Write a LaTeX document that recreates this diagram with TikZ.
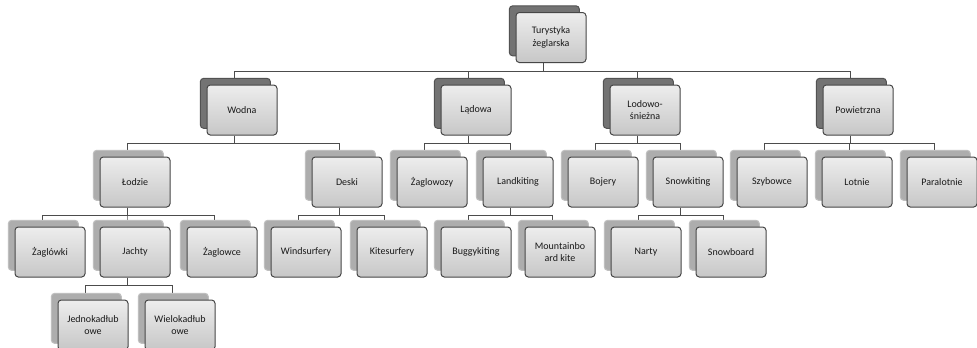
\documentclass[tikz,border=0pt]{standalone}
\usepackage{fontspec}
\setmainfont{Carlito}
\usetikzlibrary{calc,shadows}
\pgfdeclarelayer{background}
\pgfsetlayers{background,main}
\tikzset{
  box/.style={draw=black!72, line width=0.75pt, rounded corners=2.5pt,
    top color=black!7, bottom color=black!22,
    minimum width=52.5pt, minimum height=37.5pt, inner sep=1pt,
    align=center, font=\fontsize{7.5pt}{9.4pt}\selectfont, text=black!90},
  topbox/.style={box, general shadow={shadow xshift=-5pt, shadow yshift=5pt,
    fill=black!55, draw=black!68, line width=0.75pt, rounded corners=2.5pt}},
  lowbox/.style={box, general shadow={shadow xshift=-5pt, shadow yshift=5pt,
    fill=black!32, draw=black!25, rounded corners=2.5pt}},
  conn/.style={draw=black!70, line width=0.75pt},
}
\newcommand{\branch}[2]{%
  \foreach \c in {#2}{
    \draw[conn] ($(#1.south)+(-8,0)$) -- ++(0,8) -| ($(\c.north)+(-8,0)$);
  }%
}
\begin{document}
\begin{tikzpicture}[x=0.75pt,y=-0.75pt]
\useasboundingbox (0,0) rectangle (977,347);
\clip (0,0) rectangle (977,347);
% level 1
\node[topbox] (root) at (551,37.5) {Turystyka\\żeglarska};
% level 2
\node[topbox] (wodna) at (242,110) {Wodna};
\node[topbox] (ladowa) at (476,110) {Lądowa};
\node[topbox] (lodowo) at (645,110) {Lodowo-\\śnieżna};
\node[topbox] (powietrzna) at (858,110) {Powietrzna};
% level 3
\node[lowbox] (lodzie) at (135,182) {Łodzie};
\node[lowbox] (deski) at (347,182) {Deski};
\node[lowbox] (zaglowozy) at (432,182) {Żaglowozy};
\node[lowbox] (landkiting) at (518,182) {Landkiting};
\node[lowbox] (bojery) at (603,182) {Bojery};
\node[lowbox] (snowkiting) at (688,182) {Snowkiting};
\node[lowbox] (szybowce) at (772,182) {Szybowce};
\node[lowbox] (lotnie) at (857,182) {Lotnie};
\node[lowbox] (paralotnie) at (942,182) {Paralotnie};
% level 4
\node[lowbox] (zaglowki) at (50,252) {Żaglówki};
\node[lowbox] (jachty) at (135,252) {Jachty};
\node[lowbox] (zaglowce) at (222,252) {Żaglowce};
\node[lowbox] (windsurfery) at (306,252) {Windsurfery};
\node[lowbox] (kitesurfery) at (392,252) {Kitesurfery};
\node[lowbox] (buggykiting) at (476,252) {Buggykiting};
\node[lowbox] (mountainboard) at (560,252) {Mountainbo\\ard kite};
\node[lowbox] (narty) at (646,252) {Narty};
\node[lowbox] (snowboard) at (731,252) {Snowboard};
% level 5
\node[lowbox] (jedno) at (93,325) {Jednokadłub\\owe};
\node[lowbox] (wielo) at (180,325) {Wielokadłub\\owe};
% connectors
\begin{pgfonlayer}{background}
\fill[white] (0,0) rectangle (977,347);
\branch{root}{wodna,ladowa,lodowo,powietrzna}
\branch{wodna}{lodzie,deski}
\branch{ladowa}{zaglowozy,landkiting}
\branch{lodowo}{bojery,snowkiting}
\branch{powietrzna}{szybowce,lotnie,paralotnie}
\branch{lodzie}{zaglowki,jachty,zaglowce}
\branch{deski}{windsurfery,kitesurfery}
\branch{landkiting}{buggykiting,mountainboard}
\branch{snowkiting}{narty,snowboard}
\branch{jachty}{jedno,wielo}
\end{pgfonlayer}
\end{tikzpicture}
\end{document}
